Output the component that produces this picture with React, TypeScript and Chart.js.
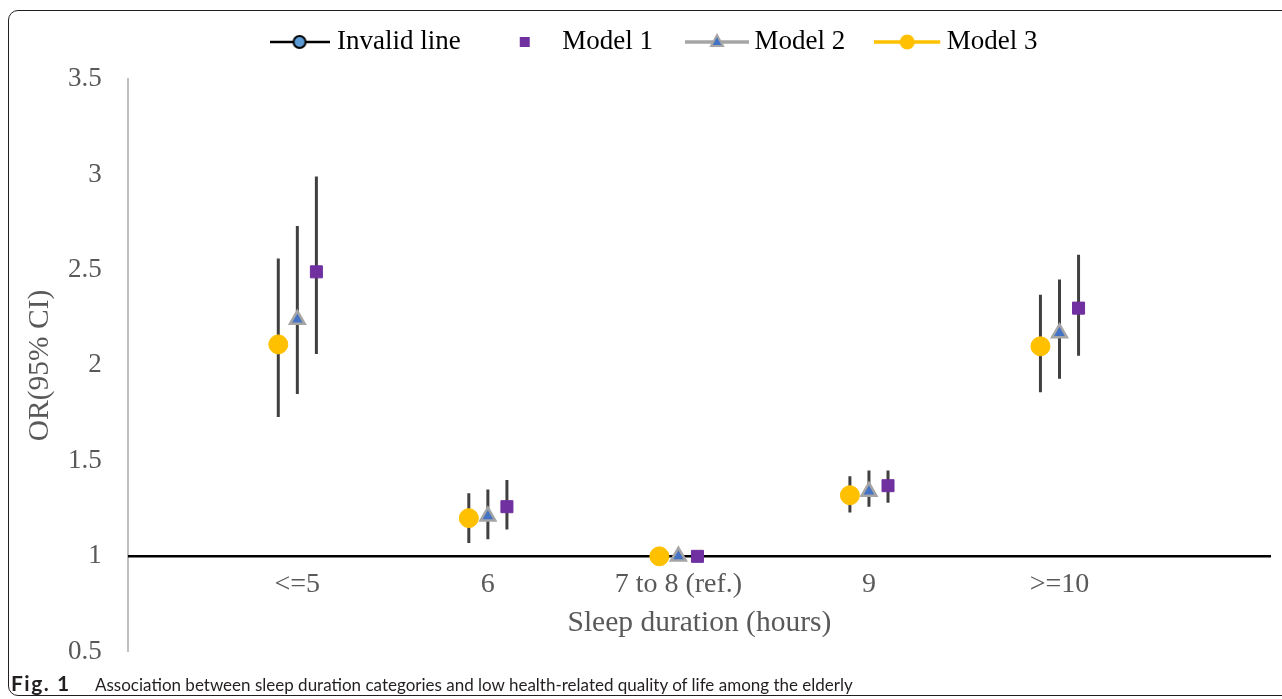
import React, { useEffect, useRef } from "react";
import { Chart, registerables } from "chart.js";

Chart.register(...registerables);

// ---------- data ----------
const categories = ["<=5", "6", "7 to 8 (ref.)", "9", ">=10"];
const categoryIndex = [0, 1, 2, 3, 4];

const model1OR = [2.49, 1.26, 1.0, 1.37, 2.3];
const model1Lower = [2.06, 1.14, null, 1.28, 2.05];
const model1Upper = [2.99, 1.4, null, 1.45, 2.58];

const model2OR = [2.24, 1.21, 1.0, 1.34, 2.17];
const model2Lower = [1.85, 1.09, null, 1.26, 1.93];
const model2Upper = [2.73, 1.35, null, 1.45, 2.45];

const model3OR = [2.11, 1.2, 1.0, 1.32, 2.1];
const model3Lower = [1.73, 1.07, null, 1.23, 1.86];
const model3Upper = [2.56, 1.33, null, 1.42, 2.37];

const yTickValues = [0.5, 1, 1.5, 2, 2.5, 3, 3.5];
const yTickLabels = ["0.5", "1", "1.5", "2", "2.5", "3", "3.5"];
const referenceValue = 1;

const legendLabels = ["Invalid line", "Model 1", "Model 2", "Model 3"];

// ---------- styles ----------
const SERIF = "'Times New Roman', 'Liberation Serif', serif";
const TEXT = "#595959";
const X_MIN = -0.89;
const X_MAX = 5.11;
const OFFSET = 0.1;

function points(offset: number, values: (number | null)[]) {
  return categoryIndex.map((c, i) => ({ x: c + offset, y: values[i] }));
}

function errorBars(offset: number, lows: (number | null)[], highs: (number | null)[]) {
  const pts: { x: number; y: number | null }[] = [];
  categoryIndex.forEach((c, i) => {
    const lo = lows[i];
    const hi = highs[i];
    if (lo == null || hi == null) return;
    pts.push({ x: c + offset, y: lo }, { x: c + offset, y: hi }, { x: c + offset, y: null });
  });
  return pts;
}

function makeIcon(kind: string) {
  const w = kind === "m3" ? 70 : kind === "m2" ? 64 : kind === "ref" ? 60 : 20;
  const c = document.createElement("canvas");
  c.width = w;
  c.height = 22;
  const g = c.getContext("2d")!;
  const cy = 11;
  const cx = w / 2;
  if (kind === "ref") {
    g.strokeStyle = "#000";
    g.lineWidth = 2.5;
    g.beginPath(); g.moveTo(0, cy); g.lineTo(w, cy); g.stroke();
    g.fillStyle = "#5B9BD5";
    g.lineWidth = 2;
    g.beginPath(); g.arc(cx, cy, 6, 0, Math.PI * 2); g.fill(); g.stroke();
  } else if (kind === "m1") {
    g.fillStyle = "#7030A0";
    g.fillRect(cx - 5, cy - 5, 10, 10);
  } else if (kind === "m2") {
    g.strokeStyle = "#A5A5A5";
    g.lineWidth = 3.5;
    g.beginPath(); g.moveTo(0, cy); g.lineTo(w, cy); g.stroke();
    g.fillStyle = "#4472C4";
    g.lineWidth = 2;
    g.beginPath();
    g.moveTo(cx, cy - 7); g.lineTo(cx + 6, cy + 4); g.lineTo(cx - 6, cy + 4); g.closePath();
    g.fill(); g.stroke();
  } else {
    g.strokeStyle = "#FFC000";
    g.lineWidth = 3.5;
    g.beginPath(); g.moveTo(0, cy); g.lineTo(w - 4, cy); g.stroke();
    g.fillStyle = "#FFC000";
    g.beginPath(); g.arc(cx - 2, cy, 7.5, 0, Math.PI * 2); g.fill();
  }
  return c;
}

function ChartCanvas() {
  const ref = useRef<HTMLCanvasElement | null>(null);
  useEffect(() => {
    if (!ref.current) return;
    const icons = [makeIcon("ref"), makeIcon("m1"), makeIcon("m2"), makeIcon("m3")];
    const barStyle = {
      type: "line" as const,
      borderColor: "#404040",
      borderWidth: 3,
      pointRadius: 0,
      showLine: true,
      spanGaps: false,
      order: 5,
    };
    const chart = new Chart(ref.current, {
      type: "line",
      data: {
        datasets: [
          {
            label: legendLabels[0],
            data: [
              { x: X_MIN, y: referenceValue },
              { x: X_MAX, y: referenceValue },
            ],
            borderColor: "#000000",
            borderWidth: 2.5,
            pointRadius: 0,
            order: 10,
          },
          { label: "m3bars", data: errorBars(-OFFSET, model3Lower, model3Upper), ...barStyle },
          { label: "m2bars", data: errorBars(0, model2Lower, model2Upper), ...barStyle },
          { label: "m1bars", data: errorBars(OFFSET, model1Lower, model1Upper), ...barStyle },
          {
            label: legendLabels[3],
            data: points(-OFFSET, model3OR),
            showLine: false,
            pointStyle: "circle",
            pointRadius: 9.5,
            pointBackgroundColor: "#FFC000",
            pointBorderColor: "#FFC000",
            pointBorderWidth: 1,
            order: 1,
          },
          {
            label: legendLabels[2],
            data: points(0, model2OR),
            showLine: false,
            pointStyle: "triangle",
            pointRadius: 8.5,
            pointBackgroundColor: "#4472C4",
            pointBorderColor: "#A5A5A5",
            pointBorderWidth: 2.5,
            order: 1,
          },
          {
            label: legendLabels[1],
            data: points(OFFSET, model1OR),
            showLine: false,
            pointStyle: "rect",
            pointRadius: 8.5,
            pointBackgroundColor: "#7030A0",
            pointBorderColor: "#7030A0",
            pointBorderWidth: 1,
            order: 1,
          },
        ],
      },
      options: {
        responsive: false,
        animation: false,
        events: [],
        layout: { padding: { left: 29, right: 7, top: 0.5, bottom: 0 } },
        scales: {
          x: {
            type: "linear",
            min: X_MIN,
            max: X_MAX,
            position: { y: referenceValue },
            afterBuildTicks: (s: any) => {
              s.ticks = categoryIndex.map((v) => ({ value: v }));
            },
            grid: { display: false, drawTicks: false },
            border: { display: false },
            ticks: {
              autoSkip: false,
              maxRotation: 0,
              color: TEXT,
              font: { family: SERIF, size: 28 },
              padding: 12,
              callback: (_v: any, i: number) => categories[i],
            },
            title: {
              display: true,
              text: "Sleep duration (hours)",
              color: TEXT,
              font: { family: SERIF, size: 29.5 },
              padding: { top: -8, bottom: 0 },
            },
          },
          spacer: {
            type: "linear",
            axis: "x",
            position: "top",
            min: 0,
            max: 1,
            grid: { display: false, drawTicks: false },
            border: { display: false },
            ticks: { display: false },
            afterFit: (s: any) => {
              s.height = 13.5;
            },
          },
          y: {
            type: "linear",
            min: 0.5,
            max: 3.5,
            afterBuildTicks: (s: any) => {
              s.ticks = yTickValues.map((v) => ({ value: v }));
            },
            grid: { display: false, drawTicks: false },
            border: { display: true, color: "#BFBFBF", width: 2 },
            ticks: {
              color: TEXT,
              font: { family: SERIF, size: 27 },
              padding: 26,
              callback: (_v: any, i: number) => yTickLabels[i],
            },
            title: {
              display: true,
              text: "OR(95% CI)",
              color: TEXT,
              font: { family: SERIF, size: 29.5 },
              padding: { top: -15.7, bottom: -15.7 },
            },
          },
        },
        plugins: {
          tooltip: { enabled: false },
          legend: {
            position: "top",
            labels: {
              usePointStyle: true,
              pointStyleWidth: 48,
              padding: 40,
              color: TEXT,
              font: { family: SERIF, size: 27 },
              generateLabels: () =>
                legendLabels.map((t, i) => ({
                  text: t,
                  pointStyle: icons[i],
                  fillStyle: "transparent",
                  strokeStyle: "transparent",
                  lineWidth: 0,
                  hidden: false,
                  datasetIndex: i,
                })),
            },
          },
        },
      } as any,
    });
    return () => chart.destroy();
  }, []);
  return (
    <canvas
      ref={ref}
      width={1273}
      height={706}
      style={{ position: "absolute", left: 9, top: -12, width: 1273, height: 706 }}
    />
  );
}

export default function App() {
  return (
    <div
      style={{
        position: "fixed",
        left: 0,
        top: 0,
        width: 1282,
        height: 699,
        overflow: "hidden",
        background: "#ffffff",
      }}
    >
      <div
        style={{
          position: "absolute",
          left: 8,
          top: 10,
          width: 1300,
          height: 686,
          border: "1px solid #231f20",
          borderRadius: 10,
          boxSizing: "border-box",
        }}
      />
      <ChartCanvas />
      <div
        style={{
          position: "absolute",
          left: 11,
          top: 670,
          fontFamily: "Lato, sans-serif",
          fontSize: 17,
          color: "#231f20",
          whiteSpace: "nowrap",
        }}
      >
        <b style={{ display: "inline-block", width: 84, fontSize: 21, letterSpacing: 1.5 }}>Fig. 1</b>
        <span>
          Association between sleep duration categories and low health-related quality of life among the elderly
        </span>
      </div>
    </div>
  );
}
